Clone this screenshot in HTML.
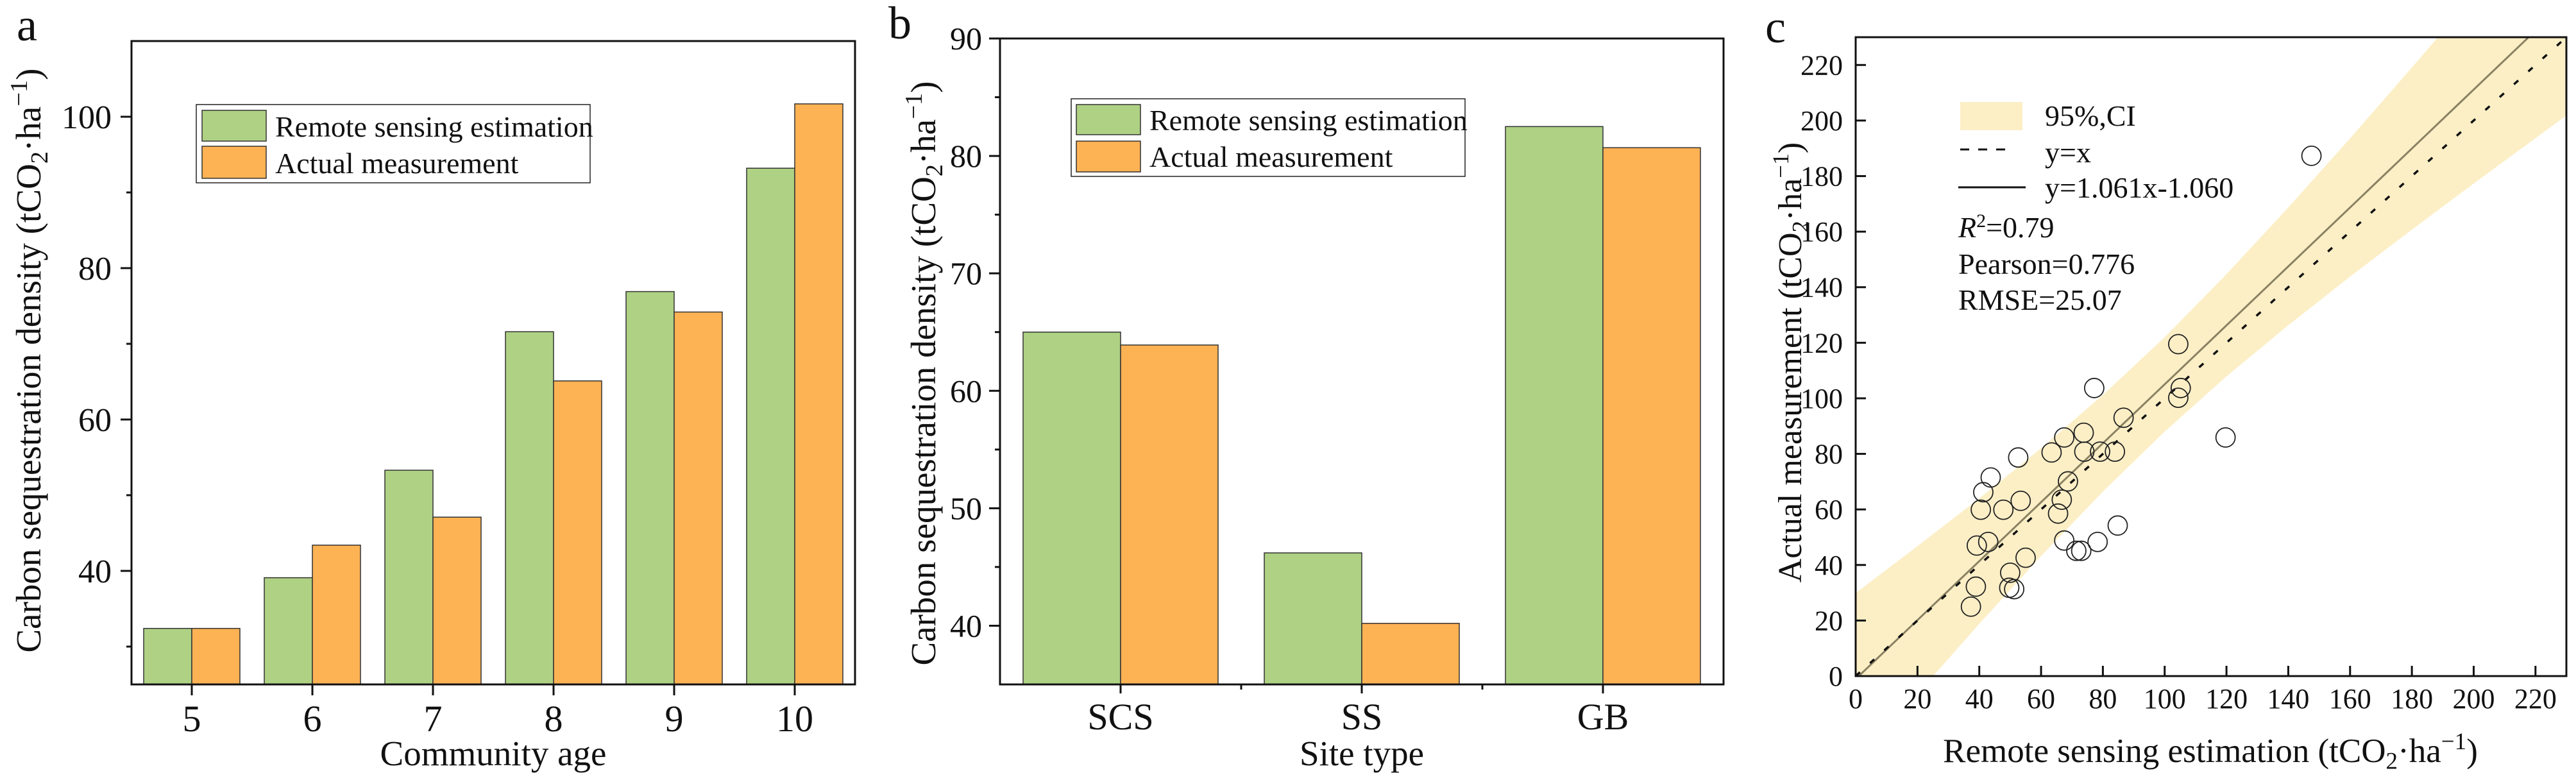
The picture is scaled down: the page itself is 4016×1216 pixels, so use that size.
<!DOCTYPE html>
<html><head><meta charset="utf-8"><style>
html,body{margin:0;padding:0;background:#fff;}
svg{display:block;font-family:"Liberation Serif","Times New Roman",serif;}
</style></head><body>
<svg id="fig" width="4016" height="1216" viewBox="0 0 4016 1216" xmlns="http://www.w3.org/2000/svg"></svg>
<script>
// ---------- Panel a data ----------
const aCategories = [5, 6, 7, 8, 9, 10];
const aRemote = [32.4, 39.1, 53.3, 71.6, 76.9, 93.2];
const aActual = [32.4, 43.4, 47.1, 65.1, 74.2, 101.7];
const aYTicks = [40, 60, 80, 100];
const aYMinor = [30, 50, 70, 90];
// ---------- Panel b data ----------
const bCategories = ["SCS", "SS", "GB"];
const bRemote = [65.0, 46.2, 82.5];
const bActual = [63.9, 40.2, 80.7];
const bYTicks = [40, 50, 60, 70, 80, 90];
const bYMinor = [45, 55, 65, 75, 85];
// ---------- Panel c data ----------
const cEstimated = [147.5,104.4,77.2,105.2,104.4,86.7,119.7,67.5,73.8,63.4,52.6,74.0,79.1,83.9,43.7,68.7,41.3,53.4,66.7,40.5,47.8,65.5,84.8,67.5,78.3,42.9,39.2,73.0,71.4,55.0,50.0,38.9,49.7,51.3,37.3];
const cMeasured = [187.3,119.5,103.7,103.7,100.2,93.0,85.9,85.9,87.6,80.5,78.7,80.8,80.8,80.8,71.5,70.1,66.2,63.1,63.5,59.9,59.9,58.5,54.2,48.8,48.3,48.3,47.0,45.1,45.1,42.6,37.2,32.2,31.8,31.3,25.0];
const ciX = [0,20,40,60,80,100,120,140,160,180,200,230];
const ciLower = [-32.1,-6.4,18.8,43.2,66.4,88.0,107.9,126.3,143.8,160.7,177.3,201.8];
const ciUpper = [29.9,46.8,64.0,82.0,101.2,122.0,144.7,168.7,193.6,219.1,244.9,284.2];
const fitSlope = 1.061;
const fitIntercept = -1.060;
const cTicks = [0,20,40,60,80,100,120,140,160,180,200,220];

const NS = "http://www.w3.org/2000/svg";
const svg = document.getElementById("fig");
function mk(tag, attrs, parent){
  const e = document.createElementNS(NS, tag);
  for (const k in attrs) e.setAttribute(k, attrs[k]);
  (parent || svg).appendChild(e);
  return e;
}
function txt(s, x, y, size, anchor, parent){
  const t = mk("text", {x:x, y:y, "font-size":size, "text-anchor":anchor||"middle", fill:"#111"}, parent);
  t.textContent = s;
  return t;
}
function unitTitle(prefix, x, y, size, rotate, parent){
  const t = mk("text", {x:x, y:y, "font-size":size, "text-anchor":"middle", fill:"#111"}, parent);
  if (rotate) t.setAttribute("transform", "rotate(-90 " + x + " " + y + ")");
  t.appendChild(document.createTextNode(prefix + "(tCO"));
  const s1 = mk("tspan", {"font-size":size*0.7, dy:size*0.2}, t); s1.textContent = "2";
  const s2 = mk("tspan", {dy:-size*0.2}, t); s2.textContent = "\u00B7ha";
  const s3 = mk("tspan", {"font-size":size*0.7, dy:-size*0.38}, t); s3.textContent = "\u22121";
  const s4 = mk("tspan", {dy:size*0.38}, t); s4.textContent = ")";
  return t;
}
const GREEN = "#aed184", ORANGE = "#fdb254";

// ================= Panel a =================
const gA = mk("g", {});


const aL = 205, aR = 1333, aT = 64, aB = 1067;
const xA = v => aL + (v - 4.5) * ((aR - aL) / 6);
const yA = v => aB - (v - 25) * ((aB - aT) / 85);
const aBarW = 75;
aCategories.forEach((c, i) => {
  const cx = xA(c);
  const r1 = mk("rect", {x:cx - aBarW, y:yA(aRemote[i]), width:aBarW, height:aB - yA(aRemote[i]), fill:GREEN, stroke:"#333", "stroke-width":1.5}, gA);
  
  
  const r2 = mk("rect", {x:cx, y:yA(aActual[i]), width:aBarW, height:aB - yA(aActual[i]), fill:ORANGE, stroke:"#333", "stroke-width":1.5}, gA);
  
  
  mk("line", {x1:cx, x2:cx, y1:aB, y2:aB + 17, stroke:"#111", "stroke-width":3}, gA);
  const tl = txt(String(c), cx, 1140, 58, "middle", gA);
  
  
});
mk("rect", {x:aL, y:aT, width:aR - aL, height:aB - aT, fill:"none", stroke:"#111", "stroke-width":3}, gA);
aYTicks.forEach(v => {
  mk("line", {x1:aL - 17, x2:aL, y1:yA(v), y2:yA(v), stroke:"#111", "stroke-width":3}, gA);
  const tl = txt(String(v), 174, yA(v) + 18, 52, "end", gA);
  
  
});
aYMinor.forEach(v => mk("line", {x1:aL - 8, x2:aL, y1:yA(v), y2:yA(v), stroke:"#111", "stroke-width":3}, gA));
const aXT = txt("Community age", 769, 1193, 55, "middle", gA);


const aYT = unitTitle("Carbon sequestration density ", 63, 562, 55, true, gA);


const aLab = txt("a", 42, 63, 72, "middle", gA);


const lgA = mk("g", {}, gA);


mk("rect", {x:306, y:163, width:614, height:122, fill:"#fff", stroke:"#222", "stroke-width":1.5}, lgA);
mk("rect", {x:315, y:172, width:100, height:48, fill:GREEN, stroke:"#333", "stroke-width":1.5}, lgA);
mk("rect", {x:315, y:228, width:100, height:50, fill:ORANGE, stroke:"#333", "stroke-width":1.5}, lgA);
txt("Remote sensing estimation", 429, 213, 46, "start", lgA);
txt("Actual measurement", 429, 270, 46, "start", lgA);

// ================= Panel b =================
const gB = mk("g", {});


const bL = 1559, bR = 2687, bT = 60, bB = 1067;
const xB = i => bL + (i + 0.5) * ((bR - bL) / 3);
const yB = v => bB - (v - 35) * ((bB - bT) / 55);
const bBarW = 152;
bCategories.forEach((c, i) => {
  const cx = xB(i);
  const r1 = mk("rect", {x:cx - bBarW, y:yB(bRemote[i]), width:bBarW, height:bB - yB(bRemote[i]), fill:GREEN, stroke:"#333", "stroke-width":1.5}, gB);
  
  
  const r2 = mk("rect", {x:cx, y:yB(bActual[i]), width:bBarW, height:bB - yB(bActual[i]), fill:ORANGE, stroke:"#333", "stroke-width":1.5}, gB);
  
  
  mk("line", {x1:cx, x2:cx, y1:bB, y2:bB + 14, stroke:"#111", "stroke-width":3}, gB);
  if (i > 0) mk("line", {x1:cx - 188, x2:cx - 188, y1:bB, y2:bB + 8, stroke:"#111", "stroke-width":3}, gB);
  const tl = txt(c, cx, 1137, 58, "middle", gB);
  
  
});
mk("rect", {x:bL, y:bT, width:bR - bL, height:bB - bT, fill:"none", stroke:"#111", "stroke-width":3}, gB);
bYTicks.forEach(v => {
  mk("line", {x1:bL - 17, x2:bL, y1:yB(v), y2:yB(v), stroke:"#111", "stroke-width":3}, gB);
  const tl = txt(String(v), 1531, yB(v) + 17, 50, "end", gB);
  
  
});
bYMinor.forEach(v => mk("line", {x1:bL - 8, x2:bL, y1:yB(v), y2:yB(v), stroke:"#111", "stroke-width":3}, gB));
const bXT = txt("Site type", 2123, 1193, 55, "middle", gB);


const bYT = unitTitle("Carbon sequestration density ", 1458, 582, 55, true, gB);


const bLab = txt("b", 1403, 60, 72, "middle", gB);


const lgB = mk("g", {}, gB);


mk("rect", {x:1670, y:154, width:614, height:121, fill:"#fff", stroke:"#222", "stroke-width":1.5}, lgB);
mk("rect", {x:1678, y:163, width:100, height:47, fill:GREEN, stroke:"#333", "stroke-width":1.5}, lgB);
mk("rect", {x:1678, y:220, width:100, height:48, fill:ORANGE, stroke:"#333", "stroke-width":1.5}, lgB);
txt("Remote sensing estimation", 1792, 203, 46, "start", lgB);
txt("Actual measurement", 1792, 260, 46, "start", lgB);

// ================= Panel c =================
const gC = mk("g", {});


const cL = 2893, cR = 4001, cT = 58, cB = 1054;
const xC = v => cL + v * ((cR - cL) / 230);
const yC = v => cB - v * ((cB - cT) / 230);
const clip = mk("clipPath", {id:"clipC"}, gC);
mk("rect", {x:cL, y:cT, width:cR - cL, height:cB - cT}, clip);
const plotC = mk("g", {"clip-path":"url(#clipC)"}, gC);
let d = "";
ciX.forEach((x, i) => d += (i ? "L" : "M") + xC(x) + "," + yC(ciUpper[i]));
for (let i = ciX.length - 1; i >= 0; i--) d += "L" + xC(ciX[i]) + "," + yC(ciLower[i]);
const band = mk("path", {d:d + "Z", fill:"#fcefc6"}, plotC);


const fit = mk("line", {x1:xC(0), y1:yC(fitIntercept), x2:xC(230), y2:yC(fitSlope * 230 + fitIntercept), stroke:"#8a8262", "stroke-width":3}, plotC);


const idl = mk("line", {x1:xC(0), y1:yC(0), x2:xC(230), y2:yC(230), stroke:"#111", "stroke-width":3.5, "stroke-dasharray":"9,21"}, plotC);


cEstimated.forEach((x, i) => {
  const p = mk("circle", {cx:xC(x), cy:yC(cMeasured[i]), r:15, fill:"none", stroke:"#222", "stroke-width":1.8}, plotC);
  
  
});
mk("rect", {x:cL, y:cT, width:cR - cL, height:cB - cT, fill:"none", stroke:"#111", "stroke-width":3}, gC);
cTicks.forEach(v => {
  mk("line", {x1:xC(v), x2:xC(v), y1:cB, y2:cB - 16, stroke:"#111", "stroke-width":3}, gC);
  mk("line", {x1:cL, x2:cL + 16, y1:yC(v), y2:yC(v), stroke:"#111", "stroke-width":3}, gC);
  const tx = txt(String(v), xC(v), 1104, 44, "middle", gC);
  
  
  const ty = txt(String(v), 2873, yC(v) + 15, 44, "end", gC);
  
  
});
const cXT = unitTitle("Remote sensing estimation ", 3446, 1188, 53, false, gC);


const cYT = unitTitle("Actual measurement ", 2808, 565, 52, true, gC);


const cLab = txt("c", 2768, 66, 72, "middle", gC);


const lgC = mk("g", {}, gC);


mk("rect", {x:3056, y:159, width:97, height:44, fill:"#fcefc6"}, lgC);
txt("95%,CI", 3188, 196, 46, "start", lgC);
mk("line", {x1:3056, x2:3133, y1:233, y2:233, stroke:"#111", "stroke-width":3, "stroke-dasharray":"14,14"}, lgC);
txt("y=x", 3188, 253, 46, "start", lgC);
mk("line", {x1:3053, x2:3158, y1:292, y2:292, stroke:"#111", "stroke-width":3}, lgC);
txt("y=1.061x-1.060", 3188, 308, 46, "start", lgC);
const r2t = mk("text", {x:3053, y:370, "font-size":46, fill:"#111"}, lgC);
const ri = mk("tspan", {"font-style":"italic"}, r2t); ri.textContent = "R";
const rs = mk("tspan", {"font-size":30, dy:-16}, r2t); rs.textContent = "2";
const rv = mk("tspan", {dy:16}, r2t); rv.textContent = "=0.79";
txt("Pearson=0.776", 3053, 427, 46, "start", lgC);
txt("RMSE=25.07", 3053, 483, 46, "start", lgC);
</script>
</body></html>
